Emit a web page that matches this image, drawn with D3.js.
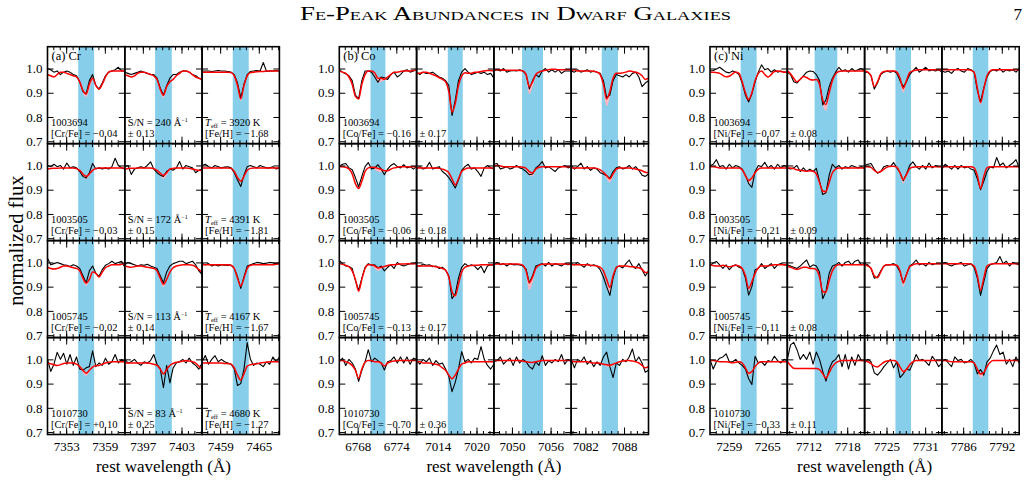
<!DOCTYPE html>
<html>
<head>
<meta charset="utf-8">
<script src="https://cdn.jsdelivr.net/npm/d3@7"></script>
<style>
  body { margin: 0; background: #fff; }
  text { font-family: "Liberation Serif", "Times New Roman", serif; }
</style>
</head>
<body>
<script>
// ---- star / abundance info ----
var starIds = ["1003694", "1003505", "1005745", "1010730"];
var snr = [240, 172, 113, 83];
var teff = [3920, 4391, 4167, 4680];
var feh = [-1.68, -1.81, -1.67, -1.27];

var crFe = [-0.04, -0.03, -0.02, 0.10], crErr = [0.13, 0.15, 0.14, 0.25];
var coFe = [-0.16, -0.06, -0.13, -0.70], coErr = [0.17, 0.18, 0.17, 0.36];
var niFe = [-0.07, -0.21, -0.11, -0.33], niErr = [0.08, 0.09, 0.08, 0.11];

// line centres (A), half width of the shaded band, labelled ticks
var crCenters = [7356.1, 7400.2, 7462.2];
var coCenters = [6771.15, 7016.7, 7053.2, 7085.8];
var niCenters = [7262.1, 7714.7, 7727.6, 7788.7];
var crHalf = [1.24, 1.3, 1.24];
var coHalf = [1.16, 1.16, 1.63, 1.26];
var niHalf = [1.24, 1.76, 1.21, 1.21];
var crTickLabels = [[7353, 7359], [7397, 7403], [7459, 7465]];
var coTickLabels = [[6768, 6774], [7014, 7020], [7050, 7056], [7082, 7088]];
var niTickLabels = [[7259, 7265], [7712, 7718], [7725, 7731], [7786, 7792]];

// sampling offsets from line centre (A)
var offsets = [-6, -5.5, -5, -4.5, -4, -3.5, -3, -2.5, -2, -1.5, -1, -0.5, 0,
               0.5, 1, 1.5, 2, 2.5, 3, 3.5, 4, 4.5, 5, 5.5, 6];

// normalized flux x1000, [star][line]
var crObs = [
  [[1000,995,985,990,975,985,990,985,975,970,945,905,895,950,975,930,915,940,970,985,990,995,1005,990,990],
   [985,980,975,980,985,990,985,980,975,975,960,920,890,930,960,975,975,985,990,990,985,975,970,960,955],
   [990,990,990,988,990,992,990,990,988,985,975,940,880,935,975,988,990,992,990,1025,988,990,990,992,990]],
  [[1000,995,1005,995,1000,985,1010,990,995,990,975,955,948,970,1008,985,990,985,990,985,995,1030,1000,990,985],
   [995,1000,963,985,990,995,990,1000,1015,985,970,960,955,975,985,980,990,1016,985,1000,995,990,970,980,985],
   [1000,1005,995,990,1000,995,990,993,995,990,970,940,913,960,995,1000,995,990,1000,995,990,990,995,985,990]],
  [[1017,990,995,1000,995,990,988,983,990,985,975,945,916,965,985,955,943,970,988,995,1005,995,1000,1005,980],
   [990,1000,995,990,985,990,988,992,985,980,975,945,916,960,985,995,1000,1005,1005,995,1000,1005,990,965,950],
   [995,990,995,985,990,985,990,988,990,988,975,940,893,940,985,990,995,1000,998,995,997,1000,998,995,1000]],
  [[1000,950,980,1029,1000,1025,980,1020,975,1010,960,955,965,970,1035,970,985,975,1005,980,990,1020,985,1000,990],
   [1000,985,990,1000,985,975,990,985,995,1020,980,962,883,975,903,965,985,990,1000,985,1005,985,975,960,985],
   [990,1016,980,1000,1015,990,1000,990,985,980,960,892,900,960,1069,1000,975,985,980,970,990,980,1010,990,1010]]
];
var crMod = [
  [[975,970,965,975,985,985,980,975,970,965,945,910,895,935,960,930,915,935,965,985,990,990,990,990,990],
   [975,970,965,970,980,985,985,980,975,970,955,915,890,925,945,955,970,980,990,990,985,975,965,960,955],
   [985,985,985,985,985,985,985,985,985,983,970,930,875,930,970,983,985,987,988,988,990,990,990,990,990]],
  [[985,987,988,988,990,990,990,990,990,987,980,965,955,965,980,988,990,990,990,990,990,990,990,990,990],
   [985,987,988,988,990,990,990,990,990,987,980,968,960,970,985,988,990,990,990,990,988,985,982,980,978],
   [990,990,990,990,990,990,990,990,990,988,975,950,935,955,980,988,990,990,990,990,990,990,990,990,990]],
  [[980,975,973,975,980,985,985,982,978,975,965,935,915,930,960,955,940,960,978,985,990,990,990,992,995],
   [985,982,980,983,985,985,983,980,978,975,965,935,910,930,960,978,985,988,990,990,990,988,982,970,960],
   [990,990,990,990,990,990,990,990,990,988,975,935,903,935,975,988,990,990,990,990,990,990,990,992,993]],
  [[985,982,978,975,978,983,985,985,985,980,970,955,943,955,968,975,975,980,985,988,990,990,990,990,990],
   [985,985,985,985,985,985,985,985,983,980,975,960,940,958,975,983,988,990,993,995,993,990,985,972,960],
   [985,985,985,985,985,985,985,983,982,980,965,935,915,940,972,978,980,982,985,987,988,990,990,990,990]]
];
// lower edge of the pink model range, offsets -1 .. +1
var crPink = [
  [[945,900,882,915,960], [950,905,880,918,945], [968,922,865,922,968]],
  [[978,955,943,958,978], [978,958,945,960,983], [975,948,932,953,980]],
  [[962,925,903,925,960], [962,925,898,925,960], [975,933,900,933,975]],
  [[968,945,932,948,968], [975,958,937,956,975], [963,930,910,937,972]]
];

var coObs = [
  [[995,985,978,970,950,890,875,950,990,990,985,965,943,965,962,955,975,985,965,975,990,995,985,990,995],
   [984,975,985,980,980,985,975,965,960,950,930,806,870,950,985,1000,985,975,980,985,980,985,975,980,960],
   [990,995,990,1000,985,990,992,990,995,990,975,916,950,975,965,990,1000,985,995,985,995,980,990,990,990],
   [990,985,995,985,990,995,985,990,985,980,950,880,890,950,975,970,965,975,965,980,985,965,925,940,950]],
  [[996,1005,1008,990,982,950,912,955,995,1012,985,990,1003,985,962,985,1000,1008,995,990,1003,990,995,985,995],
   [990,995,985,990,1013,985,990,995,975,965,950,930,907,940,980,995,1005,985,990,975,955,990,1000,990,985],
   [1005,1008,985,990,995,985,990,1000,990,985,975,962,965,990,1000,1016,990,995,985,975,990,995,1000,990,995],
   [1000,985,995,1010,985,995,980,990,985,970,965,958,947,975,990,995,985,990,1000,985,995,980,960,955,965]],
  [[1008,995,985,983,975,925,885,935,980,995,988,990,977,985,965,980,990,975,1000,990,985,990,995,995,1000],
   [984,985,993,988,990,982,985,975,980,968,945,850,870,935,980,995,985,990,985,970,985,957,985,990,988],
   [990,1000,990,995,985,995,990,992,990,985,972,915,945,985,990,995,985,1000,985,995,990,985,995,990,995],
   [995,990,1000,990,980,995,985,990,985,970,940,900,864,935,980,985,977,995,1010,985,975,995,970,944,965]],
  [[990,1005,975,1000,985,960,909,955,990,1040,990,1005,995,985,956,990,995,1010,985,1010,985,1010,980,1005,1000],
   [995,980,1000,990,1005,975,995,980,985,960,930,867,905,960,1032,990,1000,985,1005,1000,1053,1000,975,960,980],
   [990,995,1010,980,995,1005,975,1010,985,1000,990,970,960,990,975,1015,975,995,985,1000,990,1020,980,1000,990],
   [1000,965,1000,990,1010,980,995,970,990,975,1010,1030,970,925,985,975,1000,990,1010,1043,990,1010,985,947,955]]
];
var coMod = [
  [[990,985,980,965,935,885,875,935,975,990,990,982,960,960,956,965,975,985,985,988,990,990,990,992,995],
   [980,980,985,985,980,975,970,962,955,945,905,820,855,930,970,983,980,980,985,985,988,990,992,992,990],
   [995,995,995,993,993,993,993,993,992,990,975,925,945,975,985,990,993,995,997,997,995,995,995,995,995],
   [990,995,990,990,990,990,990,988,985,975,935,875,905,960,980,980,982,985,990,988,985,980,970,955,960]],
  [[995,995,993,985,965,925,905,935,975,990,993,993,988,985,978,978,985,990,993,995,995,995,995,995,995],
   [990,990,990,990,990,990,990,988,985,980,970,945,920,945,975,985,990,990,990,990,990,990,990,990,990],
   [995,1000,998,995,995,995,995,995,995,993,988,975,970,985,993,995,995,995,995,995,995,995,995,995,995],
   [990,990,990,990,990,990,990,990,988,982,972,958,945,965,985,990,990,990,990,988,985,982,978,972,970]],
  [[995,992,988,982,965,930,882,930,975,990,990,985,978,980,983,987,990,990,992,993,993,995,995,995,995],
   [985,985,985,985,985,985,982,980,975,968,940,880,862,910,960,980,985,987,988,988,990,990,990,990,990],
   [993,993,993,993,993,993,993,993,992,988,965,917,940,975,988,992,993,993,993,993,993,993,993,993,993],
   [990,990,990,990,990,990,988,987,985,980,965,930,897,945,978,985,985,985,983,982,980,978,972,958,960]],
  [[995,995,990,985,975,955,922,960,988,995,995,990,990,985,973,985,990,993,995,995,995,995,995,995,995],
   [990,990,985,985,985,982,980,975,965,955,935,920,935,960,980,985,990,990,990,990,990,990,990,990,990],
   [995,995,995,995,995,995,995,995,995,993,990,988,987,990,993,995,995,995,995,995,995,995,995,995,995],
   [995,990,990,990,990,990,987,985,985,983,980,978,976,980,985,990,993,995,995,993,990,985,975,965,970]]
];
var coPink = [
  [[988,975,940,945,950], [900,812,850,928,970], [965,895,925,970,985], [925,845,885,955,980]],
  [[993,982,975,972,978], [968,940,912,940,975], [985,958,955,980,993], [968,945,930,958,985]],
  [[988,975,965,972,983], [935,872,855,905,960], [955,885,915,968,988], [958,915,875,935,978]],
  [[995,988,985,978,968], [935,918,932,960,980], [990,986,984,988,993], [978,972,968,975,985]]
];

var niObs = [
  [[990,992,998,1005,995,985,982,990,985,975,940,890,862,895,945,985,1015,995,1000,985,995,985,990,985,985],
   [985,975,945,940,955,970,985,990,988,975,950,850,870,925,960,985,1005,990,995,985,1000,990,995,1000,990],
   [985,985,970,915,940,975,985,990,985,990,980,950,925,945,975,990,1005,985,995,1005,990,995,990,995,985],
   [990,985,990,980,995,1000,990,985,1000,995,985,910,862,920,965,988,995,990,1000,985,995,990,995,985,1000]],
  [[1000,1005,1024,995,1000,985,1005,990,1000,995,985,960,925,910,975,1000,995,1013,990,1000,985,1005,990,1000,995],
   [990,985,990,1000,975,990,975,985,975,988,935,880,887,960,1005,990,1000,985,995,990,1000,995,990,995,990],
   [1000,1005,1008,985,968,975,995,1000,995,1012,990,970,937,965,1000,1015,995,985,1000,985,1010,990,1000,995,995],
   [985,1005,995,985,1000,985,1000,990,995,985,980,945,900,935,975,995,990,1033,1000,1010,990,1000,1010,1024,990]],
  [[985,998,1004,990,975,990,970,985,990,980,975,935,865,900,970,975,995,975,985,995,975,990,995,990,990],
   [990,985,980,975,985,998,1010,980,990,985,960,850,880,955,985,990,1000,985,1000,1005,990,1005,1010,990,995],
   [995,990,975,935,940,965,985,990,990,995,985,960,915,950,985,995,1010,990,995,985,1000,990,995,995,995],
   [995,1000,990,985,992,995,1000,985,990,995,980,935,864,920,975,990,995,1000,1024,995,1005,985,1000,995,990]],
  [[1000,960,990,1005,1010,1023,990,990,1000,985,975,960,920,896,1013,985,990,975,995,990,1013,995,985,1000,995],
   [1000,1060,1070,1040,1000,1020,1000,1030,980,1030,1000,950,910,960,990,1000,1020,970,1020,960,1010,975,1020,995,995],
   [985,1000,990,945,935,950,970,985,1000,965,990,925,940,960,955,985,1020,995,1000,990,975,1013,995,970,985],
   [990,1000,985,970,1010,995,1000,985,990,1000,985,940,958,935,990,1005,1035,1059,1020,1030,980,1000,970,1010,985]]
];
var niMod = [
  [[985,985,983,980,972,966,968,978,986,980,945,900,872,900,950,980,990,975,965,975,988,990,988,985,985],
   [990,978,960,945,955,967,963,955,953,955,935,870,852,900,950,978,988,990,990,990,990,990,990,990,990],
   [990,985,970,925,945,978,988,990,990,990,985,960,918,950,983,990,993,995,995,995,995,995,995,995,995],
   [995,995,995,995,995,995,995,995,995,993,985,920,860,915,970,990,995,995,995,995,995,995,995,995,995]],
  [[995,995,993,990,990,988,990,990,990,990,982,958,938,948,970,985,990,990,990,990,990,990,990,990,990],
   [990,990,987,982,980,978,976,978,976,965,930,895,893,930,970,985,990,990,990,990,990,990,990,990,990],
   [995,995,992,980,971,975,985,993,997,997,993,970,942,962,987,993,995,995,995,995,995,995,995,995,995],
   [995,995,995,995,995,995,995,995,995,995,990,960,905,955,990,995,995,995,995,995,995,995,995,995,995]],
  [[990,987,985,985,988,985,982,985,988,985,975,945,893,920,955,978,985,985,985,988,990,990,990,990,990],
   [985,980,975,971,975,980,980,975,975,970,940,880,878,925,965,985,990,990,990,990,990,990,990,990,990],
   [990,985,975,945,937,960,985,990,990,990,988,965,917,950,983,990,995,995,995,995,995,995,995,995,995],
   [995,995,995,995,995,995,995,995,995,993,985,945,885,935,985,993,995,995,995,995,995,995,995,995,995]],
  [[995,995,993,990,990,990,988,986,988,990,985,965,943,950,970,985,990,990,990,990,990,990,990,990,990],
   [992,975,963,962,962,962,962,962,962,962,958,940,923,945,970,985,992,995,995,995,995,995,995,995,995],
   [995,990,982,972,969,978,988,993,995,995,990,968,950,958,978,990,995,995,995,995,995,995,995,995,995],
   [995,995,993,990,990,990,990,990,990,990,985,960,940,945,970,988,995,995,995,995,995,995,995,995,995]]
];
var niPink = [
  [[940,888,862,892,948], [928,850,825,885,948], [983,948,900,940,983], [983,910,850,908,970]],
  [[980,950,925,940,968], [925,885,880,922,970], [990,962,925,955,987], [988,955,895,950,990]],
  [[972,938,885,912,953], [935,870,868,918,965], [985,955,900,942,983], [983,940,878,930,985]],
  [[983,958,935,945,970], [955,935,915,940,970], [988,962,940,950,978], [983,952,925,938,970]]
];

var yTicks = [0.7, 0.8, 0.9, 1.0];

// ---- layout ----
var W = 1033, H = 496;
var groupLeft = [47.5, 339.3, 710];
var colW = 77.3, topY = 46.7, rowH = 96.95;
var yDom = [0.69, 1.09];
var bandColor = "#87ceeb", pinkColor = "#ffb6c1";

var groups = [
  {tag: "(a) Cr", el: "Cr", centers: crCenters, half: crHalf, labels: crTickLabels,
   obs: crObs, mod: crMod, pink: crPink, ab: crFe, err: crErr},
  {tag: "(b) Co", el: "Co", centers: coCenters, half: coHalf, labels: coTickLabels,
   obs: coObs, mod: coMod, pink: coPink, ab: coFe, err: coErr},
  {tag: "(c) Ni", el: "Ni", centers: niCenters, half: niHalf, labels: niTickLabels,
   obs: niObs, mod: niMod, pink: niPink, ab: niFe, err: niErr}
];

function signed(v) { return (v < 0 ? "\u2212" : "+") + Math.abs(v).toFixed(2); }

var svg = d3.select("body").append("svg")
  .attr("width", W).attr("height", H)
  .style("background", "#fff");

// running head
svg.append("text")
  .attr("x", 300).attr("y", 20)
  .attr("textLength", 431).attr("lengthAdjust", "spacingAndGlyphs")
  .style("font-variant", "small-caps")
  .style("font-size", "19px")
  .text("Fe-Peak Abundances in Dwarf Galaxies");
svg.append("text")
  .attr("x", 1022).attr("y", 20)
  .attr("text-anchor", "end")
  .style("font-size", "17px")
  .text("7");

function styleAxis(a) {
  a.select(".domain").remove();
  a.selectAll(".tick line").attr("stroke", "#000").attr("stroke-width", 1);
  a.selectAll("text").attr("font-family", "Liberation Serif, serif").attr("font-size", 13).attr("fill", "#000");
}

groups.forEach(function (g, gi) {
  g.centers.forEach(function (ctr, ci) {
    var x0 = groupLeft[gi] + ci * colW;
    var x = d3.scaleLinear().domain([ctr - 6, ctr + 6]).range([x0, x0 + colW]);
    var minor = d3.range(Math.ceil(ctr - 6), ctr + 6, 1);

    starIds.forEach(function (id, ri) {
      var y0 = topY + ri * rowH;
      var y = d3.scaleLinear().domain(yDom).range([y0 + rowH, y0]);
      var cell = svg.append("g");
      var cid = "clip" + gi + "_" + ci + "_" + ri;
      cell.append("clipPath").attr("id", cid)
        .append("rect").attr("x", x0).attr("y", y0).attr("width", colW).attr("height", rowH);
      var body = cell.append("g").attr("clip-path", "url(#" + cid + ")");

      body.append("rect")
        .attr("x", x(ctr - g.half[ci])).attr("y", y0)
        .attr("width", x(ctr + g.half[ci]) - x(ctr - g.half[ci]))
        .attr("height", rowH)
        .attr("fill", bandColor);

      var obs = g.obs[ri][ci], mod = g.mod[ri][ci], pk = g.pink[ri][ci];
      var pts = offsets.map(function (o, i) { return {w: ctr + o, b: obs[i] / 1000, m: mod[i] / 1000}; });
      var pinkPts = pk.map(function (v, k) { return {w: ctr + offsets[10 + k], lo: v / 1000, hi: mod[10 + k] / 1000}; });

      body.append("path").datum(pinkPts)
        .attr("d", d3.area().x(function (d) { return x(d.w); })
          .y0(function (d) { return y(d.lo); }).y1(function (d) { return y(d.hi); })
          .curve(d3.curveMonotoneX))
        .attr("fill", pinkColor);

      body.append("path").datum(pts)
        .attr("d", d3.line().x(function (d) { return x(d.w); }).y(function (d) { return y(d.b); }))
        .attr("fill", "none").attr("stroke", "#000").attr("stroke-width", 1.1)
        .attr("stroke-linejoin", "round");

      body.append("path").datum(pts)
        .attr("d", d3.line().x(function (d) { return x(d.w); }).y(function (d) { return y(d.m); })
          .curve(d3.curveMonotoneX))
        .attr("fill", "none").attr("stroke", "#ff0000").attr("stroke-width", 1.5);

      // ticks, all pointing inward
      var last = ri === starIds.length - 1;
      styleAxis(cell.append("g").attr("transform", "translate(0," + (y0 + rowH) + ")")
        .call(d3.axisBottom(x).tickValues(minor).tickSize(-3.5).tickFormat("")));
      styleAxis(cell.append("g").attr("transform", "translate(0," + y0 + ")")
        .call(d3.axisTop(x).tickValues(minor).tickSize(-3.5).tickFormat("")));
      styleAxis(cell.append("g").attr("transform", "translate(0," + (y0 + rowH) + ")")
        .call(d3.axisBottom(x).tickValues(g.labels[ci]).tickSize(-7).tickPadding(7)
          .tickFormat(last ? d3.format("d") : function () { return ""; })));
      styleAxis(cell.append("g").attr("transform", "translate(0," + y0 + ")")
        .call(d3.axisTop(x).tickValues(g.labels[ci]).tickSize(-7).tickFormat("")));
      styleAxis(cell.append("g").attr("transform", "translate(" + x0 + ",0)")
        .call(d3.axisLeft(y).tickValues(yTicks).tickSize(-6).tickPadding(5)
          .tickFormat(ci === 0 ? d3.format(".1f") : function () { return ""; })));
      styleAxis(cell.append("g").attr("transform", "translate(" + (x0 + colW) + ",0)")
        .call(d3.axisRight(y).tickValues(yTicks).tickSize(-6).tickFormat("")));

      cell.append("rect")
        .attr("x", x0).attr("y", y0).attr("width", colW).attr("height", rowH)
        .attr("fill", "none").attr("stroke", "#000").attr("stroke-width", 1.6);

      // annotations
      var fs = "10.5px";
      var l1 = y0 + rowH - 17.5, l2 = y0 + rowH - 6.5;
      if (ci === 0) {
        cell.append("text").attr("x", x0 + 3.5).attr("y", l1).style("font-size", fs).text(id);
        cell.append("text").attr("x", x0 + 3.5).attr("y", l2).style("font-size", fs)
          .text("[" + g.el + "/Fe] = " + signed(g.ab[ri]));
      }
      if (ci === 1) {
        if (gi === 0) {
          var t = cell.append("text").attr("x", x0 + 3).attr("y", l1).style("font-size", fs);
          t.append("tspan").text("S/N = " + snr[ri] + " \u00c5");
          t.append("tspan").attr("dy", -4).style("font-size", "6px").text("\u22121");
        }
        cell.append("text").attr("x", x0 + 3).attr("y", l2).style("font-size", fs)
          .text("\u00b1 " + g.err[ri].toFixed(2));
      }
      if (ci === 2 && gi === 0) {
        var t2 = cell.append("text").attr("x", x0 + 3).attr("y", l1).style("font-size", fs);
        t2.append("tspan").style("font-style", "italic").text("T");
        t2.append("tspan").attr("dy", 2).style("font-size", "6.5px").text("eff");
        t2.append("tspan").attr("dy", -2).text(" = " + teff[ri] + " K");
        cell.append("text").attr("x", x0 + 3).attr("y", l2).style("font-size", fs)
          .text("[Fe/H] = " + signed(feh[ri]));
      }
      if (ri === 0 && ci === 0) {
        cell.append("text").attr("x", x0 + 4).attr("y", y0 + 13.5).style("font-size", "12.5px").text(g.tag);
      }
    });
  });

  var gx0 = groupLeft[gi], gx1 = gx0 + g.centers.length * colW;
  svg.append("text")
    .attr("x", (gx0 + gx1) / 2).attr("y", 472)
    .attr("text-anchor", "middle")
    .style("font-size", "17px")
    .text("rest wavelength (\u00c5)");
});

svg.append("text")
  .attr("transform", "translate(23," + (topY + 2 * rowH) + ") rotate(-90)")
  .attr("text-anchor", "middle")
  .style("font-size", "20.5px")
  .text("normalized flux");
</script>
</body>
</html>
